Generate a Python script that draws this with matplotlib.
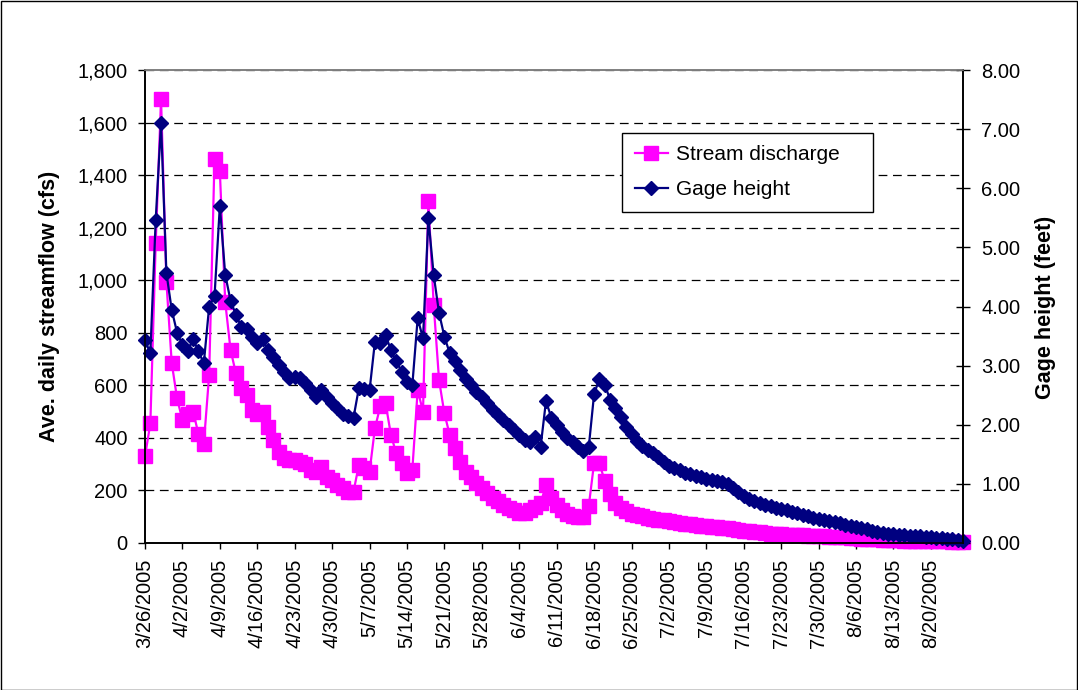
import matplotlib
matplotlib.use("Agg")
import matplotlib.pyplot as plt
from matplotlib.patches import Rectangle
from matplotlib.ticker import FuncFormatter, MultipleLocator
import pandas as pd

plt.rcParams['font.family'] = ['Liberation Sans', 'DejaVu Sans']

# daily values starting 3/26/2005
start_date = "2005-03-26"

discharge_cfs = [
    330, 455, 1140, 1690, 995, 685, 550, 468, 490, 500, 415, 377, 640, 1460,
    1415, 918, 735, 646, 589, 563, 506, 490, 500, 443, 392, 345, 322, 316,
    316, 310, 300, 278, 271, 290, 252, 240, 221, 208, 195, 195, 297, 285,
    271, 436, 520, 532, 411, 341, 303, 265, 278, 582, 500, 1300, 906, 620,
    493, 411, 360, 309, 270, 250, 230, 208, 189, 172, 158, 146, 134, 124,
    116, 113, 126, 138, 152, 220, 172, 145, 125, 112, 104, 98, 100, 140,
    305, 303, 235, 185, 152, 132, 120, 112, 106, 101, 97, 93, 89, 86,
    83, 80, 77, 74, 71, 69, 66, 64, 62, 60, 58, 56, 53, 50,
    47, 45, 42, 40, 38, 36, 35, 33, 32, 31, 30, 29, 28, 27,
    26, 25, 24, 23, 22, 21, 20, 18, 17, 16, 15, 14, 13, 12,
    11, 10, 9, 9, 8, 8, 7, 7, 6, 6, 6, 5, 5, 5,
]

gage_height_ft = [
    3.43, 3.21, 5.46, 7.11, 4.57, 3.94, 3.56, 3.35, 3.24, 3.45, 3.24, 3.04, 4.00, 4.17,
    5.70, 4.54, 4.10, 3.86, 3.66, 3.62, 3.49, 3.38, 3.45, 3.26, 3.15, 3.01, 2.90, 2.79,
    2.81, 2.79, 2.70, 2.59, 2.47, 2.59, 2.47, 2.36, 2.28, 2.19, 2.14, 2.12, 2.62, 2.60,
    2.58, 3.40, 3.38, 3.52, 3.26, 3.07, 2.90, 2.73, 2.67, 3.80, 3.46, 5.49, 4.53, 3.89,
    3.49, 3.21, 3.07, 2.93, 2.78, 2.67, 2.56, 2.47, 2.36, 2.25, 2.16, 2.08, 2.00, 1.91,
    1.82, 1.74, 1.70, 1.80, 1.63, 2.40, 2.12, 2.00, 1.88, 1.78, 1.70, 1.63, 1.56, 1.62,
    2.52, 2.78, 2.68, 2.42, 2.28, 2.13, 1.97, 1.84, 1.72, 1.64, 1.58, 1.52, 1.45, 1.37,
    1.31, 1.27, 1.23, 1.19, 1.16, 1.13, 1.11, 1.09, 1.07, 1.05, 1.03, 0.99, 0.93, 0.86,
    0.80, 0.75, 0.71, 0.67, 0.64, 0.62, 0.59, 0.57, 0.55, 0.53, 0.50, 0.47, 0.45, 0.43,
    0.41, 0.39, 0.37, 0.35, 0.33, 0.31, 0.29, 0.27, 0.25, 0.23, 0.21, 0.19, 0.17, 0.16,
    0.15, 0.14, 0.13, 0.12, 0.12, 0.11, 0.10, 0.10, 0.09, 0.08, 0.07, 0.06, 0.05, 0.04,
]

dates = pd.date_range(start_date, periods=len(discharge_cfs), freq="D")
tick_dates = dates[::7]
tick_labels = [f"{d.month}/{d.day}/{d.year}" for d in tick_dates]

W, H = 1078, 690
fig = plt.figure(figsize=(W / 100, H / 100), dpi=100)
fig.patch.set_facecolor("white")

# plot area in pixels: left 145, right 963, top 70, bottom 543
ax = fig.add_axes([145 / W, 1 - 543 / H, (963 - 145) / W, (543 - 70) / H])
ax2 = ax.twinx()

ax.plot(dates, discharge_cfs, color="#FF00FF", lw=1.6, marker="s", ms=9.5,
        mec="#FF00FF", mfc="#FF00FF", label="Stream discharge", clip_on=False)
ax2.plot(dates, gage_height_ft, color="#000080", lw=1.6, marker="D", ms=7,
         mec="#000080", mfc="#000080", label="Gage height", clip_on=False)

ax.set_xlim(dates[0], dates[-1])
ax.set_ylim(0, 1800)
ax2.set_ylim(0, 8)

ax.yaxis.set_major_locator(MultipleLocator(200))
ax.yaxis.set_major_formatter(FuncFormatter(lambda v, p: f"{v:,.0f}"))
ax2.yaxis.set_major_locator(MultipleLocator(1))
ax2.yaxis.set_major_formatter(FuncFormatter(lambda v, p: f"{v:.2f}"))

ax.set_xticks(tick_dates)
ax.set_xticklabels(tick_labels, rotation=90, ha="center", va="top")

fs = 14.5
ax.tick_params(axis="x", direction="out", length=4.3, width=1, labelsize=fs, pad=7)
ax.tick_params(axis="y", direction="out", length=5, width=1, labelsize=fs, pad=7.5)
ax2.tick_params(axis="y", direction="inout", length=10, width=1, labelsize=fs, pad=8)

ax.set_axisbelow(True)
ax.yaxis.grid(True, color="black", linestyle=(0, (7, 4.5)), lw=0.9)

for a in (ax, ax2):
    a.spines["top"].set_color("#808080")
    a.spines["top"].set_linewidth(1.2)
    a.spines["left"].set_linewidth(1.2)
    a.spines["bottom"].set_linewidth(1.2)
ax.spines["right"].set_visible(False)
ax2.spines["right"].set_linewidth(1.4)

fig.text(50 / W, 1 - 306 / H, "Ave. daily streamflow (cfs)", rotation=90,
         ha="center", va="center", fontsize=15.5, fontweight="bold")
fig.text(1045 / W, 1 - 307 / H, "Gage height (feet)", rotation=90,
         ha="center", va="center", fontsize=15.5, fontweight="bold")

# legend box spans 622..873 px across, top at 133 px
handles = ax.get_lines() + ax2.get_lines()
leg = fig.legend(handles, [h.get_label() for h in handles], loc="upper left",
                 bbox_to_anchor=(622 / W, 1 - 210 / H, (873 - 622) / W, 77 / H),
                 mode="expand", fontsize=15,
                 frameon=True, fancybox=False, framealpha=1, edgecolor="black",
                 borderaxespad=0, handlelength=1.6, handletextpad=0.4,
                 borderpad=0.6, labelspacing=0.75)
leg.get_frame().set_linewidth(1)

# chart border
fig.patches.append(Rectangle((0.5 / W, 0.5 / H), 1 - 1.5 / W, 1 - 1.5 / H,
                             transform=fig.transFigure, fill=False,
                             ec="black", lw=1))

fig.savefig("out.png", dpi=100)
